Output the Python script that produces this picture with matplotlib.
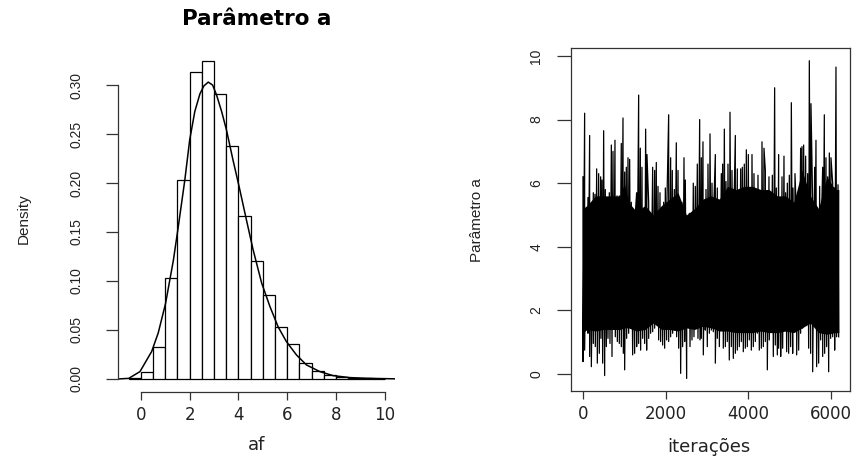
import numpy as np
import matplotlib
matplotlib.use("Agg")
import matplotlib.pyplot as plt
from matplotlib import font_manager as fm

# ---------------- data ----------------
# histogram of parameter a (density scale, bin width 0.5)
bin_edges_left = [-0.5, 0.0, 0.5, 1.0, 1.5, 2.0, 2.5, 3.0, 3.5, 4.0, 4.5,
                  5.0, 5.5, 6.0, 6.5, 7.0, 7.5, 8.0, 8.5, 9.0, 9.5]
bin_density = [0.0014, 0.0068, 0.033, 0.103, 0.2035, 0.3136, 0.3245, 0.2905,
               0.238, 0.166, 0.1206, 0.0856, 0.0527, 0.0353, 0.0166, 0.0082,
               0.004, 0.0024, 0.001, 0.0007, 0.0003]
bin_width = 0.5

# kernel density curve
kde_x = [-0.93, -0.5, -0.04, 0.44, 0.71, 1.01, 1.33, 1.53, 1.80, 2.0, 2.21,
         2.42, 2.58, 2.76, 2.94, 3.1, 3.31, 3.51, 3.78, 4.03, 4.33, 4.6,
         4.95, 5.29, 5.63, 5.97, 6.38, 6.79, 7.34, 7.88, 8.57, 9.25, 10.07, 10.48]
kde_y = [0.0, 0.0006, 0.0075, 0.028, 0.047, 0.077, 0.121, 0.155, 0.203, 0.244,
         0.273, 0.291, 0.299, 0.303, 0.300, 0.29, 0.273, 0.254, 0.223, 0.196,
         0.162, 0.132, 0.098, 0.074, 0.053, 0.038, 0.0245, 0.0143, 0.0075,
         0.0034, 0.0014, 0.0007, 0.0003, 0.0001]

# trace: local maxima (upper spikes)
trace_up_iter = [0, 40, 81, 121, 161, 202, 250, 290, 331, 379, 427, 460, 500,
                 540, 589, 637, 686, 726, 774, 823, 879, 927, 968, 1008, 1048,
                 1089, 1129, 1169, 1218, 1266, 1298, 1347, 1387, 1427, 1468,
                 1516, 1548, 1589, 1637, 1686, 1734, 1774, 1815, 1863, 1911,
                 1952, 1992, 2032, 2073, 2121, 2161, 2210, 2258, 2299, 2347,
                 2395, 2444, 2476, 2516, 2573, 2621, 2669, 2718, 2766, 2823,
                 2863, 2903, 2944, 2976, 3024, 3073, 3121, 3161, 3202, 3250,
                 3299, 3347, 3379, 3420, 3460, 3508, 3557, 3605, 3653, 3686,
                 3734, 3766, 3815, 3855, 3903, 3952, 4000, 4049, 4089, 4137,
                 4186, 4234, 4283, 4331, 4379, 4412, 4452, 4500, 4541, 4581,
                 4637, 4678, 4734, 4783, 4815, 4863, 4903, 4944, 4992, 5041,
                 5081, 5129, 5170, 5218, 5266, 5299, 5339, 5387, 5436, 5476,
                 5516, 5557, 5605, 5637, 5686, 5726, 5766, 5799, 5839, 5879,
                 5920, 5960, 6000, 6041, 6081, 6121, 6170]
trace_up_val = [6.2, 8.2, 5.2, 5.55, 7.5, 5.15, 5.7, 5.65, 6.45, 6.3, 6.2, 6.1,
                7.65, 5.8, 4.8, 5.7, 7.2, 7.0, 7.35, 5.6, 5.6, 7.25, 8.05, 6.35,
                6.5, 6.8, 6.75, 5.4, 5.15, 5.05, 5.7, 8.77, 7.1, 6.5, 5.2, 7.7,
                6.9, 5.4, 4.85, 6.5, 6.4, 6.65, 5.9, 5.7, 5.2, 5.4, 5.85, 5.5,
                8.15, 6.8, 6.4, 5.8, 7.27, 6.4, 4.85, 5.4, 6.8, 6.1, 4.95, 5.05,
                4.85, 6.0, 5.9, 6.6, 8.0, 6.8, 7.3, 3.95, 5.8, 6.6, 7.55, 6.0,
                5.1, 6.9, 5.85, 5.2, 6.3, 6.6, 7.7, 6.05, 6.6, 8.23, 6.4, 5.25,
                7.5, 6.45, 5.7, 6.45, 6.5, 6.6, 7.05, 6.9, 5.55, 6.9, 6.3, 5.8,
                6.25, 5.4, 7.3, 7.1, 6.4, 5.6, 6.2, 5.6, 6.25, 9.0, 5.85, 6.9,
                5.0, 6.2, 6.85, 5.7, 6.0, 6.25, 8.53, 5.85, 6.3, 4.8, 5.6, 7.1,
                7.15, 7.2, 6.85, 6.3, 9.85, 8.5, 5.4, 6.5, 7.35, 5.05, 5.9, 4.6,
                6.5, 8.15, 6.8, 6.2, 6.95, 6.8, 6.0, 5.85, 9.65, 5.95]
# trace: local minima (lower spikes)
trace_lo_iter = [0, 40, 81, 121, 161, 202, 250, 298, 347, 395, 435, 476, 524,
                 565, 605, 653, 702, 742, 782, 831, 879, 927, 976, 1008, 1056,
                 1105, 1153, 1202, 1250, 1298, 1347, 1395, 1444, 1492, 1540,
                 1589, 1637, 1686, 1734, 1782, 1831, 1879, 1927, 1976, 2024,
                 2073, 2121, 2169, 2218, 2266, 2315, 2363, 2411, 2460, 2508,
                 2540, 2589, 2637, 2685, 2734, 2782, 2831, 2863, 2911, 2960,
                 3008, 3057, 3105, 3153, 3202, 3250, 3299, 3347, 3395, 3444,
                 3492, 3540, 3589, 3637, 3686, 3734, 3782, 3831, 3879, 3928,
                 3976, 4024, 4073, 4121, 4170, 4218, 4266, 4315, 4363, 4412,
                 4460, 4508, 4557, 4605, 4653, 4702, 4734, 4783, 4831, 4879,
                 4928, 4976, 5024, 5073, 5121, 5170, 5218, 5266, 5315, 5363,
                 5411, 5460, 5508, 5557, 5605, 5653, 5702, 5750, 5799, 5847,
                 5895, 5944, 5992, 6041, 6089, 6137, 6186]
trace_lo_val = [0.39, 0.75, 1.44, 1.28, 0.55, 0.23, 0.96, 0.86, 0.34, 0.65,
                1.12, 0.34, -0.05, 0.86, 1.12, 0.96, 0.55, 1.6, 1.17, 1.02,
                0.96, 0.86, 0.65, 0.13, 1.12, 1.28, 1.44, 0.6, 0.65, 0.86,
                0.96, 0.75, 1.12, 0.96, 0.75, 1.12, 1.28, 1.33, 1.44, 1.75,
                1.07, 1.02, 0.91, 0.81, 1.07, 1.02, 1.17, 1.28, 1.38, 1.17,
                0.81, 0.02, 0.86, 1.02, -0.14, 1.8, 0.86, 1.07, 1.17, 1.75,
                1.12, 1.07, 1.12, 0.6, 1.38, 0.86, 1.28, 1.38, 1.33, 0.34,
                1.12, 0.86, 1.54, 0.81, 0.86, 1.02, 0.44, 0.86, 0.49, 0.65,
                0.75, 0.86, 1.02, 0.7, 0.81, 0.86, 1.07, 0.75, 0.86, 1.02,
                1.28, 0.75, 0.81, 0.86, 1.02, 0.13, 1.07, 1.54, 0.55, 0.91,
                0.6, 0.81, 0.55, 0.81, 1.38, 0.7, 0.65, 0.86, 0.65, 1.38,
                0.6, 0.75, 1.28, 1.44, 1.6, 1.85, 0.81, 0.65, 0.07, 1.54,
                0.23, 0.34, 1.07, 0.55, 0.65, 0.86, 0.07, 1.12, 1.17, 0.75,
                1.17, 1.17]
# trace: extent of the solid (densely over-plotted) core of the chain
trace_core_iter = [0, 100, 300, 500, 700, 900, 1000, 1100, 1300, 1500, 1700,
                   1900, 2100, 2300, 2500, 2700, 2900, 3100, 3300, 3500, 3700,
                   3900, 4100, 4300, 4500, 4700, 4900, 5100, 5300, 5500, 5700,
                   5900, 6100, 6190]
trace_core_hi = [5.2, 5.3, 5.6, 5.6, 5.6, 5.6, 6.0, 5.4, 5.1, 5.3, 5.0, 5.3,
                 5.5, 5.7, 5.0, 5.2, 5.5, 5.6, 5.5, 5.9, 5.8, 5.9, 5.9, 5.8,
                 5.8, 5.6, 5.6, 5.4, 6.4, 5.6, 5.2, 6.2, 5.8, 5.8]
trace_core_lo = [1.3, 1.4, 1.35, 1.4, 1.4, 1.4, 1.45, 1.45, 1.35, 1.4, 1.6,
                 1.4, 1.4, 1.35, 1.45, 1.4, 1.5, 1.45, 1.35, 1.35, 1.3, 1.3,
                 1.3, 1.35, 1.3, 1.3, 1.35, 1.3, 1.45, 1.6, 1.3, 1.25, 1.3, 1.3]

hist_xticks = [0, 2, 4, 6, 8, 10]
hist_yticks = [0.00, 0.05, 0.10, 0.15, 0.20, 0.25, 0.30]
trace_xticks = [0, 2000, 4000, 6000]
trace_yticks = [0, 2, 4, 6, 8, 10]

# ---------------- fonts ----------------
def has_font(name):
    try:
        fm.findfont(fm.FontProperties(family=name), fallback_to_default=False)
        return True
    except Exception:
        return False

if has_font("Liberation Sans Narrow"):
    vfont, vtick, vlab = "Liberation Sans Narrow", 12, 13
else:
    vfont, vtick, vlab = "Liberation Sans", 10, 11
hfont = "DejaVu Sans"
htick = 12
txt_col = "#222222"
ax_col = "#333333"

# ---------------- figure ----------------
W, H = 864, 457
fig = plt.figure(figsize=(W / 100, H / 100), dpi=100)

def px_axes(x0, x1, ytop, ybot):
    return fig.add_axes([x0 / W, 1 - ybot / H, (x1 - x0) / W, (ybot - ytop) / H])

# ---- left: histogram + density ----
ax1 = px_axes(118, 395, 48, 392)
ax1.bar(bin_edges_left, bin_density, width=bin_width, align="edge",
        facecolor="white", edgecolor="black", linewidth=0.9)
ax1.plot(kde_x, kde_y, color="black", linewidth=1.1)
ax1.set_xlim(-0.94, 10.42)
ax1.set_ylim(-0.0133, 0.3378)
for s in ["top", "right"]:
    ax1.spines[s].set_visible(False)
ax1.spines["left"].set_bounds(0, 0.30)
ax1.spines["bottom"].set_bounds(0, 10)
for s in ["left", "bottom"]:
    ax1.spines[s].set_color(ax_col)
    ax1.spines[s].set_linewidth(0.9)
ax1.set_xticks(hist_xticks)
ax1.set_xticklabels([str(t) for t in hist_xticks], fontfamily=hfont,
                    fontsize=htick, color=txt_col)
ax1.set_yticks(hist_yticks)
ax1.set_yticklabels(["%.2f" % t for t in hist_yticks], fontfamily=vfont,
                    fontsize=vtick, color=txt_col, rotation=90, va="center")
ax1.tick_params(axis="x", length=5.8, width=0.9, color=ax_col, pad=4.5)
ax1.tick_params(axis="y", length=8.6, width=0.9, color=ax_col, pad=16.5)
ax1.set_title("Parâmetro a", fontfamily=hfont, fontweight="bold",
              fontsize=15.5, y=1.084, va="center", pad=0)
ax1.set_xlabel("af", fontfamily=hfont, fontsize=13, color=txt_col, va="center")
ax1.xaxis.set_label_coords(0.5, -0.154)
ax1.set_ylabel("Density", fontfamily=vfont, fontsize=vlab,
               color=txt_col, va="center")
ax1.yaxis.set_label_coords(-0.339, 0.503)

# ---- right: trace plot ----
ax2 = px_axes(571, 849.7, 48, 391)
ax2.fill_between(trace_core_iter, trace_core_lo, trace_core_hi,
                 color="black", linewidth=0)
it = np.concatenate([trace_up_iter, trace_lo_iter]).astype(float)
val = np.concatenate([trace_up_val, trace_lo_val]).astype(float)
order = np.argsort(it, kind="stable")
ax2.plot(it[order], val[order], color="black", linewidth=0.9)
ax2.set_xlim(-290, 6453)
ax2.set_ylim(-0.535, 10.25)
for s in ax2.spines.values():
    s.set_color(ax_col)
    s.set_linewidth(0.9)
ax2.set_xticks(trace_xticks)
ax2.set_xticklabels([str(t) for t in trace_xticks], fontfamily=hfont,
                    fontsize=htick, color=txt_col)
ax2.set_yticks(trace_yticks)
ax2.set_yticklabels([str(t) for t in trace_yticks], fontfamily=vfont,
                    fontsize=vtick, color=txt_col, rotation=90, va="center")
ax2.tick_params(axis="x", length=5.8, width=0.9, color=ax_col, pad=4.5)
ax2.tick_params(axis="y", length=10, width=0.9, color=ax_col, pad=10)
ax2.set_xlabel("iterações", fontfamily=hfont, fontsize=13, color=txt_col,
               va="center")
ax2.xaxis.set_label_coords(0.495, -0.163)
ax2.set_ylabel("Parâmetro a", fontfamily=vfont, fontsize=vlab,
               color=txt_col, va="center")
ax2.yaxis.set_label_coords(-0.337, 0.4985)

fig.savefig("out.png", dpi=100, facecolor="white")
